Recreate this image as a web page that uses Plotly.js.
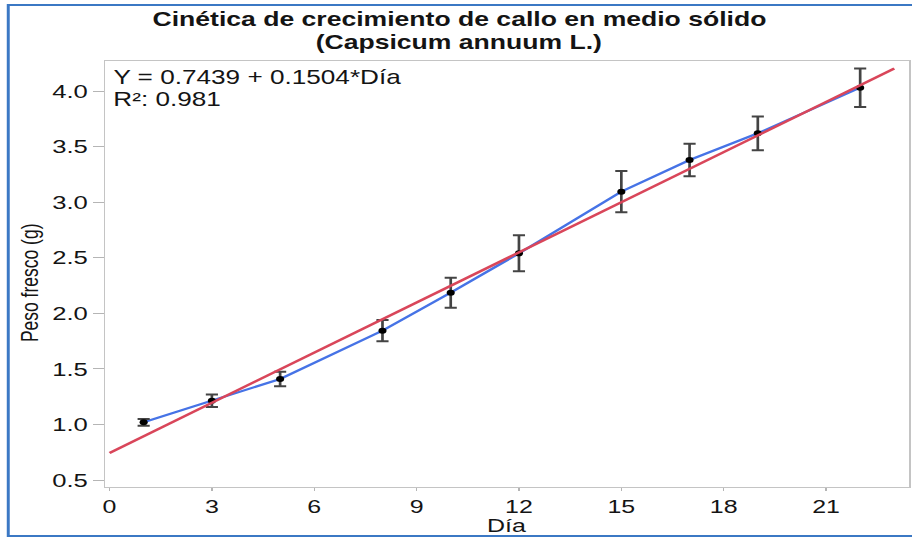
<!DOCTYPE html>
<html>
<head>
<meta charset="utf-8">
<script src="https://cdn.plot.ly/plotly-3.0.1.min.js"></script>
<style>
  html, body { margin: 0; padding: 0; background: #ffffff; overflow: hidden; }
  #wrap { width: 912px; height: 538px; overflow: hidden; }
  /* the chart is laid out narrower and widened horizontally so the type reads broad */
  #chart { width: 676px; height: 538px; transform: scaleX(1.34911); transform-origin: 0 0; }
</style>
</head>
<body>
<div id="wrap"><div id="chart"></div></div>
<script>
// Callus fresh weight over time (days), mean and error
const days = [1, 3, 5, 8, 10, 12, 15, 17, 19, 22];
const freshWeight = [1.019, 1.214, 1.409, 1.844, 2.186, 2.540, 3.095, 3.380, 3.620, 4.031];
const weightError = [0.03, 0.056, 0.065, 0.096, 0.135, 0.162, 0.185, 0.146, 0.152, 0.173];

// Linear fit stated in the chart: Y = 0.7439 + 0.1504*Día
const fitIntercept = 0.7439;
const fitSlope = 0.1504;
const fitDays = [0, 23];
const fitLabel = 'Y = 0.7439 + 0.1504*Día';
const r2Label = 'R²: 0.981';

const titleLines = ['Cinética de crecimiento de callo en medio sólido', '(Capsicum annuum L.)'];
const xTitle = 'Día';
const yTitle = 'Peso fresco (g)';

const xTicks = [0, 3, 6, 9, 12, 15, 18, 21];
const yTicks = [0.5, 1.0, 1.5, 2.0, 2.5, 3.0, 3.5, 4.0];

const font = 'Liberation Sans, Arial, sans-serif';
const ink = '#141414';

const traces = [
  {
    x: days, y: freshWeight, type: 'scatter', mode: 'lines',
    line: { color: '#4673e6', width: 2.2 },
    hoverinfo: 'skip', showlegend: false
  },
  {
    x: days, y: freshWeight, type: 'scatter', mode: 'markers',
    marker: { color: '#000000', size: 6 },
    error_y: { type: 'data', array: weightError, visible: true,
               color: '#444444', thickness: 2, width: 4.5 },
    showlegend: false
  },
  {
    x: fitDays, y: fitDays.map(d => fitIntercept + fitSlope * d),
    type: 'scatter', mode: 'lines',
    line: { color: '#d9465a', width: 2.4 },
    hoverinfo: 'skip', showlegend: false
  }
];

function label(text, x, y, anchor, size, bold, angle) {
  return {
    text: bold ? '<b>' + text + '</b>' : text,
    xref: 'paper', yref: 'paper', x: x, y: y,
    xanchor: anchor, yanchor: 'middle', showarrow: false,
    textangle: angle || 0,
    font: { family: font, size: size, color: ink }
  };
}

const layout = {
  width: 676, height: 538,
  margin: { l: 78, r: 2, t: 61, b: 51 },
  paper_bgcolor: '#ffffff', plot_bgcolor: '#ffffff',
  font: { family: font, color: ink, size: 19 },
  xaxis: {
    range: [-0.126, 23.44],
    tickmode: 'array', tickvals: xTicks, ticktext: xTicks.map(String),
    ticks: 'outside', ticklen: 3, tickwidth: 1.2, tickcolor: '#b5b5b5',
    showline: true, linecolor: '#c4c4c4', linewidth: 1.3, mirror: true,
    showgrid: false, zeroline: false,
    tickfont: { family: font, size: 18.5, color: ink }
  },
  yaxis: {
    range: [0.437, 4.271],
    tickmode: 'array', tickvals: yTicks, ticktext: yTicks.map(v => v.toFixed(1)),
    ticks: 'outside', ticklen: 8, tickwidth: 1.2, tickcolor: '#b5b5b5',
    showline: true, linecolor: '#c4c4c4', linewidth: 1.3, mirror: true,
    showgrid: false, zeroline: false,
    tickfont: { family: font, size: 19, color: ink }
  },
  annotations: [
    label(titleLines[0], 0.440, 1.0986, 'center', 19.7, true),
    label(titleLines[1], 0.440, 1.0446, 'center', 19.7, true),
    label(xTitle, 0.5, -0.0915, 'center', 18.5, false),
    label(yTitle, -0.0936, 0.479, 'center', 17.5, false, -90),
    label(fitLabel, 0.006, 0.962, 'left', 19.4, false),
    label(r2Label, 0.006, 0.911, 'left', 19.4, false)
  ],
  shapes: [
    // blue frame around the figure
    { type: 'path', xref: 'paper', yref: 'paper',
      path: 'M 1.2 1.1315 L -0.1206 1.1315 L -0.1206 -0.115 L 1.2 -0.115',
      line: { color: '#3b78c4', width: 2.2 } }
  ]
};

Plotly.newPlot('chart', traces, layout, { displayModeBar: false, responsive: false });
</script>
</body>
</html>
